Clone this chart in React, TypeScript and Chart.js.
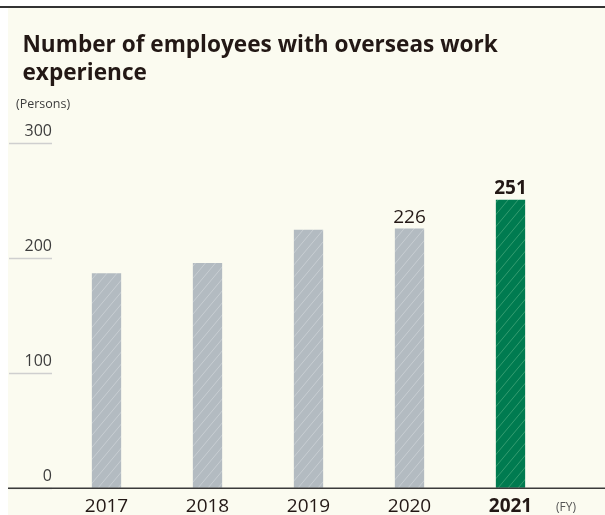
import { useEffect, useRef } from 'react';
import { Chart, registerables } from 'chart.js';

Chart.register(...registerables);

const years = ['2017', '2018', '2019', '2020', '2021'];
const employees = [187, 196, 225, 226, 251];
const highlightYear = '2021';
const labeledYears = ['2020', '2021'];
const yMin = 0;
const yMax = 300;
const yStep = 100;
const titleLines = ['Number of employees with overseas work', 'experience'];
const yUnit = '(Persons)';
const xUnit = '(FY)';

const FONT = "'Open Sans', 'Noto Sans', sans-serif";
const CREAM = '#FBFBF0';
const INK = '#231815';
const GRAY_BAR = '#B3BBC1';
const GRAY_HATCH = 'rgba(255,255,255,0.28)';
const GREEN_BAR = '#007B50';
const GREEN_HATCH = 'rgba(130,205,160,0.4)';

function makeHatch(base: string, line: string): CanvasPattern | string {
  const w = 10;
  const h = 12;
  const c = document.createElement('canvas');
  c.width = w;
  c.height = h;
  const g = c.getContext('2d');
  if (!g) return base;
  g.fillStyle = base;
  g.fillRect(0, 0, w, h);
  g.strokeStyle = line;
  g.lineWidth = 1;
  for (const dx of [-w, 0, w]) {
    g.beginPath();
    g.moveTo(dx, h);
    g.lineTo(dx + w, 0);
    g.stroke();
  }
  return g.createPattern(c, 'repeat') || base;
}

const decor = {
  id: 'decor',
  beforeDraw(chart: any) {
    const { ctx, width, height } = chart;
    ctx.save();
    ctx.fillStyle = CREAM;
    ctx.fillRect(0, 0, width, height);
    ctx.restore();
  },
  afterDatasetsDraw(chart: any) {
    const { ctx } = chart;
    const meta = chart.getDatasetMeta(0);
    ctx.save();
    ctx.fillStyle = INK;
    ctx.textAlign = 'center';
    ctx.textBaseline = 'alphabetic';
    years.forEach((yr, i) => {
      if (!labeledYears.includes(yr)) return;
      const el = meta.data[i];
      const bold = yr === highlightYear;
      ctx.font = `${bold ? 'bold ' : ''}19px ${FONT}`;
      ctx.fillText(String(employees[i]), el.x, el.y - 6);
    });
    ctx.restore();
  },
  afterDraw(chart: any) {
    const { ctx, width } = chart;
    const y0 = chart.scales.y.getPixelForValue(0);
    ctx.save();
    ctx.strokeStyle = '#3a3a3a';
    ctx.lineWidth = 1.5;
    ctx.beginPath();
    ctx.moveTo(0, y0);
    ctx.lineTo(width, y0);
    ctx.stroke();
    ctx.fillStyle = INK;
    ctx.textAlign = 'left';
    ctx.textBaseline = 'alphabetic';
    ctx.font = `bold 22.6px ${FONT}`;
    ctx.fillText(titleLines[0], 14.5, 44);
    ctx.fillText(titleLines[1], 14.5, 72.3);
    ctx.font = `12.5px ${FONT}`;
    ctx.fillStyle = '#3d3d3d';
    ctx.textBaseline = 'middle';
    ctx.fillText(yUnit, 8, 96);
    ctx.font = `12px ${FONT}`;
    ctx.fillStyle = '#555';
    ctx.fillText(xUnit, 548, 500);
    ctx.restore();
  },
};

export default function App() {
  const ref = useRef<HTMLCanvasElement | null>(null);

  useEffect(() => {
    if (!ref.current) return;
    const grayPat = makeHatch(GRAY_BAR, GRAY_HATCH);
    const greenPat = makeHatch(GREEN_BAR, GREEN_HATCH);
    const chart = new Chart(ref.current, {
      type: 'bar',
      data: {
        labels: years,
        datasets: [
          {
            data: employees,
            backgroundColor: years.map((y) => (y === highlightYear ? greenPat : grayPat)) as any,
            borderWidth: 0,
            categoryPercentage: 1,
            barPercentage: 0.29,
          },
        ],
      },
      options: {
        animation: false,
        responsive: true,
        maintainAspectRatio: false,
        layout: { padding: { top: 135.5, right: 44, left: 0, bottom: 0 } },
        plugins: {
          legend: { display: false },
          title: { display: false },
          tooltip: { enabled: false },
        },
        scales: {
          x: {
            type: 'category',
            offset: true,
            grid: { display: false, drawTicks: false },
            border: { display: false },
            ticks: {
              color: INK,
              padding: 6.5,
              font: (c: any) => ({
                family: FONT,
                size: 19,
                weight: years[c.index] === highlightYear ? 'bold' : 'normal',
              }),
            },
            afterFit: (s: any) => {
              s.height = 26.7;
            },
          },
          y: {
            min: yMin,
            max: yMax,
            grid: {
              drawOnChartArea: false,
              drawTicks: true,
              tickLength: 47,
              tickBorderDash: [43, 200],
              tickColor: '#cfcfcf',
              tickWidth: 1.5,
            },
            border: { display: false },
            ticks: {
              stepSize: yStep,
              padding: -43,
              labelOffset: -12,
              color: '#3d3d3d',
              font: { family: FONT, size: 16 },
            },
            afterFit: (s: any) => {
              s.width = 48;
            },
          },
        },
      },
      plugins: [decor],
    });
    return () => chart.destroy();
  }, []);

  return (
    <>
      <div style={{ position: 'fixed', left: 0, top: 6, width: 605, height: 2, background: '#333' }} />
      <div style={{ position: 'fixed', left: 8, top: 8, width: 597, height: 507 }}>
        <canvas ref={ref} />
      </div>
    </>
  );
}
